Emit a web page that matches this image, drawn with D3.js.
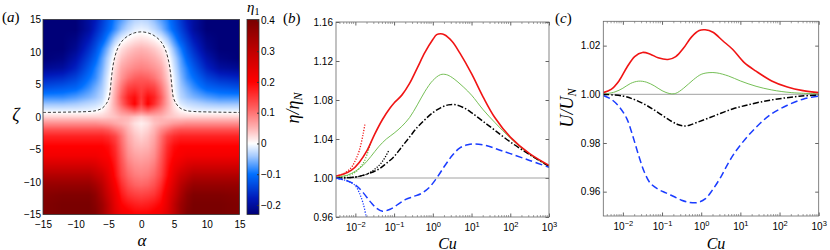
<!DOCTYPE html>
<html>
<head>
<meta charset="utf-8">
<script src="https://d3js.org/d3.v7.min.js"></script>
<style>
body { margin: 0; background: #fff; }
svg { display: block; }
text { font-family: "Liberation Sans", Arial, sans-serif; font-size: 10px; fill: #000; }
.lab { font-family: "Liberation Serif", "DejaVu Serif", serif; font-style: italic; }
</style>
</head>
<body>
<svg width="830" height="250"></svg>
<script>
// ---------- panel (a): eta_1(alpha, zeta), symmetric in alpha ----------
const alphaCols = [0, 1, 2, 3, 4, 5, 6, 7, 8, 10, 12, 15];
const zetaRows = [15, 13.5, 12, 10.5, 9, 7.5, 6, 4.5, 3, 2, 1, 0, -1, -2, -3, -4.5, -6, -7.5, -9, -10.5, -12, -13.5, -15];
const eta1Grid = [
  [-0.03, -0.035, -0.05, -0.07, -0.09, -0.12, -0.15, -0.18, -0.2, -0.23, -0.23, -0.23],
  [-0.01, -0.015, -0.03, -0.05, -0.08, -0.11, -0.14, -0.17, -0.2, -0.23, -0.23, -0.23],
  [0.02, 0.015, 0.005, -0.01, -0.04, -0.08, -0.12, -0.15, -0.18, -0.22, -0.23, -0.23],
  [0.05, 0.045, 0.035, 0.02, -0.005, -0.05, -0.09, -0.13, -0.16, -0.21, -0.23, -0.23],
  [0.07, 0.065, 0.055, 0.04, 0.012, -0.03, -0.07, -0.11, -0.14, -0.19, -0.22, -0.23],
  [0.09, 0.085, 0.075, 0.06, 0.025, -0.02, -0.06, -0.09, -0.12, -0.17, -0.2, -0.21],
  [0.12, 0.115, 0.1, 0.075, 0.035, -0.01, -0.05, -0.08, -0.1, -0.14, -0.16, -0.17],
  [0.14, 0.15, 0.14, 0.1, 0.05, -0.005, -0.04, -0.06, -0.08, -0.11, -0.12, -0.13],
  [0.15, 0.19, 0.17, 0.12, 0.06, 0.005, -0.03, -0.045, -0.055, -0.07, -0.08, -0.08],
  [0.14, 0.2, 0.16, 0.11, 0.06, 0.015, -0.015, -0.025, -0.03, -0.04, -0.045, -0.045],
  [0.1, 0.12, 0.1, 0.08, 0.05, 0.025, 0.005, -0.005, -0.01, -0.012, -0.012, -0.012],
  [0.03, 0.04, 0.05, 0.05, 0.04, 0.035, 0.03, 0.03, 0.03, 0.03, 0.03, 0.03],
  [0.01, 0.02, 0.04, 0.05, 0.06, 0.07, 0.075, 0.08, 0.08, 0.08, 0.08, 0.08],
  [0.02, 0.03, 0.05, 0.08, 0.1, 0.12, 0.13, 0.13, 0.13, 0.13, 0.13, 0.13],
  [0.03, 0.04, 0.06, 0.1, 0.14, 0.16, 0.17, 0.17, 0.17, 0.17, 0.17, 0.17],
  [0.045, 0.05, 0.07, 0.11, 0.16, 0.19, 0.2, 0.2, 0.2, 0.2, 0.2, 0.2],
  [0.06, 0.065, 0.08, 0.12, 0.17, 0.2, 0.21, 0.22, 0.22, 0.22, 0.22, 0.22],
  [0.075, 0.08, 0.095, 0.13, 0.18, 0.22, 0.24, 0.26, 0.27, 0.27, 0.27, 0.27],
  [0.09, 0.095, 0.11, 0.14, 0.19, 0.24, 0.28, 0.3, 0.32, 0.32, 0.32, 0.32],
  [0.11, 0.115, 0.13, 0.16, 0.21, 0.26, 0.31, 0.34, 0.36, 0.36, 0.36, 0.36],
  [0.14, 0.145, 0.155, 0.18, 0.23, 0.28, 0.33, 0.37, 0.39, 0.39, 0.39, 0.38],
  [0.17, 0.175, 0.185, 0.2, 0.24, 0.3, 0.35, 0.38, 0.4, 0.4, 0.4, 0.39],
  [0.2, 0.2, 0.21, 0.22, 0.25, 0.3, 0.35, 0.39, 0.4, 0.4, 0.4, 0.39]
];
// eta_1 = 0 contour, right half (alpha >= 0)
const zeroContour = [[0, 13.1], [1, 12.95], [2, 12.5], [3, 11.6], [3.7, 10.3], [4.2, 8.5], [4.5, 6.5],
  [4.7, 4.5], [4.9, 3], [5.3, 2.1], [5.9, 1.4], [6.8, 1.0], [8, 0.85], [10, 0.78], [15, 0.7]];
const axisTicksA = [-15, -10, -5, 0, 5, 10, 15];
const cbarTicks = [-0.2, -0.1, 0, 0.1, 0.2, 0.3, 0.4];
const cmapStops = [-0.23, -0.18, -0.1, -0.04, 0, 0.05, 0.12, 0.2, 0.3, 0.4];
const cmapColors = ["#000078", "#0018b8", "#0070ff", "#a8ccff", "#ffffff", "#ffb4b4", "#ff5a5a", "#ff0000", "#c00000", "#7a0000"];

// ---------- panels (b) and (c): [log10(Cu), value] ----------
const bRed = [[-2.5, 1.002], [-2.3, 1.004], [-2.1, 1.008], [-1.9, 1.016], [-1.7, 1.028], [-1.5, 1.045], [-1.3, 1.06],
  [-1.1, 1.072], [-1.0, 1.077], [-0.8, 1.085], [-0.6, 1.097], [-0.4, 1.113], [-0.2, 1.129], [0.0, 1.142], [0.1, 1.147],
  [0.2, 1.148], [0.3, 1.147], [0.5, 1.14], [0.7, 1.128], [1.0, 1.107], [1.3, 1.083], [1.6, 1.062], [2.0, 1.042],
  [2.5, 1.025], [3.0, 1.013]];
const bGreen = [[-2.5, 1.001], [-2.2, 1.003], [-2.0, 1.007], [-1.8, 1.013], [-1.6, 1.022], [-1.4, 1.032], [-1.2, 1.04],
  [-1.0, 1.046], [-0.8, 1.053], [-0.6, 1.062], [-0.4, 1.075], [-0.2, 1.089], [0.0, 1.1], [0.2, 1.106], [0.35, 1.106],
  [0.5, 1.103], [0.8, 1.093], [1.0, 1.085], [1.3, 1.07], [1.6, 1.057], [2.0, 1.041], [2.5, 1.024], [3.0, 1.012]];
const bBlack = [[-2.5, 1.0], [-2.0, 1.001], [-1.7, 1.004], [-1.4, 1.009], [-1.2, 1.015], [-1.0, 1.022], [-0.8, 1.032],
  [-0.6, 1.042], [-0.4, 1.052], [-0.2, 1.06], [0.0, 1.067], [0.2, 1.072], [0.4, 1.075], [0.6, 1.075], [0.8, 1.072],
  [1.0, 1.067], [1.3, 1.058], [1.6, 1.049], [2.0, 1.037], [2.5, 1.024], [3.0, 1.012]];
const bBlue = [[-2.5, 1.0], [-2.2, 0.997], [-2.0, 0.993], [-1.8, 0.985], [-1.6, 0.975], [-1.45, 0.969], [-1.3, 0.966],
  [-1.1, 0.968], [-0.9, 0.973], [-0.7, 0.978], [-0.5, 0.981], [-0.3, 0.984], [-0.1, 0.99], [0.1, 1.0], [0.3, 1.012],
  [0.5, 1.023], [0.7, 1.031], [0.9, 1.034], [1.1, 1.035], [1.4, 1.033], [1.7, 1.029], [2.0, 1.025], [2.5, 1.018], [3.0, 1.011]];
const bRedDot = [[-2.5, 1.002], [-2.3, 1.0045], [-2.1, 1.011], [-2.0, 1.018], [-1.9, 1.028], [-1.8, 1.045], [-1.75, 1.056]];
const bGreenDot = [[-2.5, 1.0006], [-2.2, 1.0024], [-2.0, 1.006], [-1.8, 1.015], [-1.7, 1.024], [-1.6, 1.037]];
const bBlackDot = [[-2.5, 1.0], [-2.0, 1.001], [-1.7, 1.004], [-1.5, 1.009], [-1.3, 1.017], [-1.14, 1.028]];
const bBlueDot = [[-2.5, 0.9995], [-2.2, 0.997], [-2.0, 0.992], [-1.9, 0.985], [-1.8, 0.974], [-1.72, 0.96], [-1.7, 0.955]];
const bYTicks = [0.96, 1.0, 1.04, 1.08, 1.12, 1.16];

const cRed = [[-2.5, 1.0007], [-2.3, 1.002], [-2.1, 1.0055], [-1.9, 1.011], [-1.7, 1.0155], [-1.5, 1.0172], [-1.3, 1.0165],
  [-1.1, 1.015], [-0.85, 1.0143], [-0.65, 1.0155], [-0.45, 1.019], [-0.25, 1.0235], [-0.05, 1.0262], [0.1, 1.0265],
  [0.3, 1.0255], [0.55, 1.022], [0.8, 1.0185], [1.1, 1.013], [1.4, 1.0095], [1.8, 1.0055], [2.2, 1.003], [2.6, 1.0015], [3.0, 1.0007]];
const cGreen = [[-2.5, 1.0], [-2.2, 1.001], [-2.0, 1.0025], [-1.8, 1.0045], [-1.6, 1.0054], [-1.4, 1.005], [-1.2, 1.0035],
  [-1.0, 1.0015], [-0.8, 1.0003], [-0.65, 1.0004], [-0.45, 1.0025], [-0.2, 1.006], [0.0, 1.0082], [0.2, 1.0089],
  [0.4, 1.0088], [0.7, 1.0075], [1.0, 1.0055], [1.4, 1.0033], [1.8, 1.0018], [2.3, 1.0007], [3.0, 1.0002]];
const cBlack = [[-2.5, 1.0], [-2.0, 0.9993], [-1.7, 0.9978], [-1.4, 0.9955], [-1.1, 0.9925], [-0.8, 0.9893], [-0.6, 0.9876],
  [-0.45, 0.987], [-0.3, 0.9873], [-0.1, 0.9885], [0.2, 0.9903], [0.5, 0.9922], [0.8, 0.994], [1.1, 0.9953], [1.5, 0.9968],
  [2.0, 0.9982], [2.5, 0.9992], [3.0, 0.9997]];
const cBlue = [[-2.5, 0.9995], [-2.3, 0.998], [-2.1, 0.995], [-1.9, 0.99], [-1.75, 0.983], [-1.6, 0.975], [-1.45, 0.968],
  [-1.3, 0.9635], [-1.1, 0.961], [-0.9, 0.9595], [-0.7, 0.958], [-0.5, 0.9565], [-0.3, 0.9556], [-0.1, 0.9555], [0.1, 0.957],
  [0.3, 0.961], [0.5, 0.966], [0.7, 0.972], [0.9, 0.977], [1.2, 0.983], [1.5, 0.988], [1.8, 0.992], [2.2, 0.9955], [2.6, 0.998], [3.0, 0.9993]];
const cYTicks = [0.96, 0.98, 1.0, 1.02];
const cuDecades = [1e-2, 1e-1, 1e0, 1e1, 1e2, 1e3];

const svg = d3.select("svg");

// ================= panel (a) =================
const A = {l: 43, r: 239.5, t: 19.5, b: 214.5};
const xA = d3.scaleLinear().domain([-15, 15]).range([A.l, A.r]);
const yA = d3.scaleLinear().domain([-15, 15]).range([A.b, A.t]);
const color = d3.scaleLinear().domain(cmapStops).range(cmapColors).clamp(true);

const rowScales = eta1Grid.map(r => d3.scaleLinear().domain(alphaCols).range(r).clamp(true));
const W = Math.round(A.r - A.l), H = Math.round(A.b - A.t);
const cv = document.createElement("canvas");
cv.width = W; cv.height = H;
const ctx = cv.getContext("2d");
const img = ctx.createImageData(W, H);
for (let i = 0; i < W; i++) {
  const a = Math.abs(xA.invert(A.l + (i + 0.5) * (A.r - A.l) / W));
  const col = d3.scaleLinear().domain(zetaRows).range(rowScales.map(s => s(a))).clamp(true);
  for (let j = 0; j < H; j++) {
    const z = yA.invert(A.t + (j + 0.5) * (A.b - A.t) / H);
    const c = d3.rgb(color(col(z)));
    const k = (j * W + i) * 4;
    img.data[k] = c.r; img.data[k + 1] = c.g; img.data[k + 2] = c.b; img.data[k + 3] = 255;
  }
}
ctx.putImageData(img, 0, 0);
svg.append("image").attr("x", A.l).attr("y", A.t).attr("width", A.r - A.l).attr("height", A.b - A.t)
  .attr("preserveAspectRatio", "none").attr("href", cv.toDataURL());

const contourFull = zeroContour.slice().reverse().map(d => [-d[0], d[1]]).concat(zeroContour.slice(1));
svg.append("path").datum(contourFull)
  .attr("d", d3.line().x(d => xA(d[0])).y(d => yA(d[1])).curve(d3.curveCatmullRom))
  .attr("fill", "none").attr("stroke", "#222").attr("stroke-width", 0.9).attr("stroke-dasharray", "3,2");

svg.append("rect").attr("x", A.l).attr("y", A.t).attr("width", A.r - A.l).attr("height", A.b - A.t)
  .attr("fill", "none").attr("stroke", "#333").attr("stroke-width", 0.8);

svg.append("g").attr("transform", `translate(0,${A.b})`)
  .call(d3.axisBottom(xA).tickValues(axisTicksA).tickSize(0).tickPadding(6))
  .call(g => g.select(".domain").remove());
svg.append("g").attr("transform", `translate(${A.l},0)`)
  .call(d3.axisLeft(yA).tickValues(axisTicksA).tickSize(0).tickPadding(2))
  .call(g => g.select(".domain").remove());

svg.append("text").attr("class", "lab").attr("x", 142).attr("y", 246).attr("text-anchor", "middle")
  .style("font-size", "17px").text("α");
svg.append("text").attr("class", "lab").attr("x", 16).attr("y", 121).attr("text-anchor", "middle")
  .style("font-size", "18px").text("ζ");

// colorbar
const CB = {l: 247, r: 259, t: 19.5, b: 214.5};
const yCB = d3.scaleLinear().domain([-0.231, 0.403]).range([CB.b, CB.t]);
const cbH = Math.round(CB.b - CB.t);
const cv2 = document.createElement("canvas");
cv2.width = 1; cv2.height = cbH;
const ctx2 = cv2.getContext("2d");
for (let j = 0; j < cbH; j++) {
  ctx2.fillStyle = color(yCB.invert(CB.t + j + 0.5));
  ctx2.fillRect(0, j, 1, 1);
}
svg.append("image").attr("x", CB.l).attr("y", CB.t).attr("width", CB.r - CB.l).attr("height", CB.b - CB.t)
  .attr("preserveAspectRatio", "none").attr("href", cv2.toDataURL());
svg.append("rect").attr("x", CB.l).attr("y", CB.t).attr("width", CB.r - CB.l).attr("height", CB.b - CB.t)
  .attr("fill", "none").attr("stroke", "#333").attr("stroke-width", 0.8);
svg.append("g").attr("transform", `translate(${CB.r},0)`)
  .call(d3.axisRight(yCB).tickValues(cbarTicks).tickSize(-2).tickPadding(2)
    .tickFormat(d => d === 0 ? "0" : d3.format(".1f")(d)))
  .call(g => g.select(".domain").remove())
  .call(g => g.selectAll("line").attr("stroke", "#333"));
const etaLab = svg.append("text").attr("class", "lab").attr("x", 247).attr("y", 12).style("font-size", "15px");
etaLab.append("tspan").text("η");
etaLab.append("tspan").attr("dy", 3).style("font-size", "10px").style("font-style", "normal").text("1");

// ================= panels (b), (c) =================
function supLabels(g) {
  g.selectAll(".tick text").each(function (d) {
    const e = Math.round(Math.log10(d));
    const t = d3.select(this).text(null);
    t.append("tspan").text("10");
    t.append("tspan").attr("dy", "-0.5em").style("font-size", "7.5px").text(e < 0 ? "−" + (-e) : String(e));
  });
}

function logPanel(P, yDomain, yTicks, series, dots, yLabel, tag) {
  const x = d3.scaleLog().domain([Math.pow(10, -2.5), 1e3]).range([P.l, P.r]);
  const y = d3.scaleLinear().domain(yDomain).range([P.b, P.t]);
  const minor = [];
  for (let e = -3; e < 3; e++) for (let k = 2; k <= 9; k++) {
    const v = k * Math.pow(10, e);
    if (v > x.domain()[0] && v < 1e3) minor.push(v);
  }
  const axisCol = "#666";
  // minor ticks
  [[P.b, -2], [P.t, 2]].forEach(([yy, len]) => {
    svg.append("g").selectAll("line").data(minor).join("line")
      .attr("x1", d => x(d)).attr("x2", d => x(d)).attr("y1", yy).attr("y2", yy + len)
      .attr("stroke", axisCol).attr("stroke-width", 0.6);
  });
  svg.append("g").attr("transform", `translate(0,${P.b})`)
    .call(d3.axisBottom(x).tickValues(cuDecades).tickSize(-3.5).tickPadding(7))
    .call(g => g.select(".domain").remove())
    .call(g => g.selectAll("line").attr("stroke", axisCol))
    .call(supLabels);
  svg.append("g").attr("transform", `translate(0,${P.t})`)
    .call(d3.axisTop(x).tickValues(cuDecades).tickSize(-3.5).tickFormat(""))
    .call(g => g.select(".domain").remove())
    .call(g => g.selectAll("line").attr("stroke", axisCol));
  svg.append("g").attr("transform", `translate(${P.l},0)`)
    .call(d3.axisLeft(y).tickValues(yTicks).tickSize(-3.5).tickPadding(3).tickFormat(d3.format(".2f")))
    .call(g => g.select(".domain").remove())
    .call(g => g.selectAll("line").attr("stroke", axisCol));
  svg.append("g").attr("transform", `translate(${P.r},0)`)
    .call(d3.axisRight(y).tickValues(yTicks).tickSize(-3.5).tickFormat(""))
    .call(g => g.select(".domain").remove())
    .call(g => g.selectAll("line").attr("stroke", axisCol));

  const clipId = "clip" + tag;
  svg.append("clipPath").attr("id", clipId).append("rect")
    .attr("x", P.l).attr("y", P.t).attr("width", P.r - P.l).attr("height", P.b - P.t);
  const plot = svg.append("g").attr("clip-path", `url(#${clipId})`);

  plot.append("line").attr("x1", P.l).attr("x2", P.r).attr("y1", y(1)).attr("y2", y(1))
    .attr("stroke", "#8a8a8a").attr("stroke-width", 0.8);

  const line = d3.line().x(d => x(Math.pow(10, d[0]))).y(d => y(d[1])).curve(d3.curveCatmullRom);
  dots.forEach(s => plot.append("path").datum(s.data).attr("d", line).attr("fill", "none")
    .attr("stroke", s.color).attr("stroke-width", 1.3).attr("stroke-dasharray", "1.2,1.5"));
  series.forEach(s => plot.append("path").datum(s.data).attr("d", line).attr("fill", "none")
    .attr("stroke", s.color).attr("stroke-width", s.w).attr("stroke-dasharray", s.dash || null));

  svg.append("rect").attr("x", P.l).attr("y", P.t).attr("width", P.r - P.l).attr("height", P.b - P.t)
    .attr("fill", "none").attr("stroke", axisCol).attr("stroke-width", 0.8);

  svg.append("text").attr("class", "lab").attr("x", (P.l + P.r) / 2 + 5).attr("y", 248.5)
    .attr("text-anchor", "middle").style("font-size", "16px").text("Cu");
  const yl = svg.append("text").attr("class", "lab")
    .attr("transform", `translate(${yLabel.x},${yLabel.y}) rotate(-90)`)
    .attr("text-anchor", "middle").style("font-size", "18px");
  yl.append("tspan").text(yLabel.a + "/" + yLabel.a);
  yl.append("tspan").attr("dy", 3).style("font-size", "12px").text("N");
}

function panelTag(x, y, letter) {
  const t = svg.append("text").attr("x", x).attr("y", y).style("font-family", "'Liberation Serif', serif")
    .style("font-size", "15px");
  t.append("tspan").text("(");
  t.append("tspan").style("font-style", "italic").text(letter);
  t.append("tspan").text(")");
}

const red = "#f01414", green = "#66b844", blue = "#1a3cff";
logPanel({l: 336, r: 549, t: 22, b: 217}, [0.96, 1.16], bYTicks, [
  {data: bGreen, color: green, w: 0.9},
  {data: bBlack, color: "#000", w: 1.5, dash: "6,2,1.5,2"},
  {data: bBlue, color: blue, w: 1.5, dash: "7,3.5"},
  {data: bRed, color: red, w: 1.6}
], [
  {data: bRedDot, color: red}, {data: bGreenDot, color: green},
  {data: bBlackDot, color: "#000"}, {data: bBlueDot, color: blue}
], {x: 299, y: 108, a: "η"}, "b");

logPanel({l: 603.3, r: 818.7, t: 21.3, b: 216}, [0.95, 1.03], cYTicks, [
  {data: cGreen, color: green, w: 0.9},
  {data: cBlack, color: "#000", w: 1.5, dash: "6,2,1.5,2"},
  {data: cBlue, color: blue, w: 1.5, dash: "7,3.5"},
  {data: cRed, color: red, w: 1.6}
], [], {x: 573, y: 108, a: "U"}, "c");

panelTag(2, 22, "a");
panelTag(283, 23, "b");
panelTag(555, 23, "c");
</script>
</body>
</html>
